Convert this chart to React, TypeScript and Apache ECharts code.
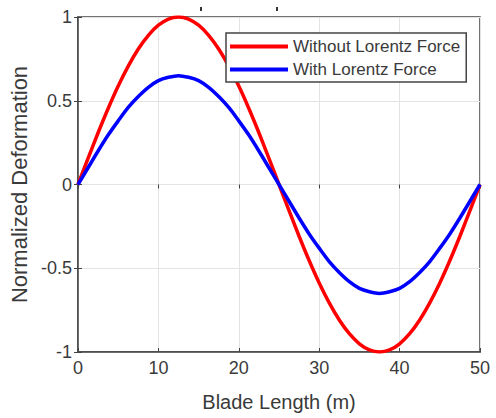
import React, { useEffect, useRef } from "react";
import * as echarts from "echarts";

const xValues = [0, 1.25, 2.5, 3.75, 5, 6.25, 7.5, 8.75, 10, 11.25, 12.5, 13.75, 15, 16.25, 17.5, 18.75, 20, 21.25, 22.5, 23.75, 25, 26.25, 27.5, 28.75, 30, 31.25, 32.5, 33.75, 35, 36.25, 37.5, 38.75, 40, 41.25, 42.5, 43.75, 45, 46.25, 47.5, 48.75, 50];
const withoutLorentz = [0, 0.156, 0.309, 0.454, 0.588, 0.707, 0.809, 0.891, 0.951, 0.988, 1.0, 0.988, 0.951, 0.891, 0.809, 0.707, 0.588, 0.454, 0.309, 0.156, 0, -0.156, -0.309, -0.454, -0.588, -0.707, -0.809, -0.891, -0.951, -0.988, -1.0, -0.988, -0.951, -0.891, -0.809, -0.707, -0.588, -0.454, -0.309, -0.156, 0];
const withLorentz = [0, 0.1, 0.2, 0.295, 0.38, 0.46, 0.525, 0.58, 0.62, 0.64, 0.65, 0.64, 0.62, 0.58, 0.525, 0.46, 0.38, 0.295, 0.2, 0.1, 0, -0.1, -0.2, -0.295, -0.38, -0.46, -0.525, -0.58, -0.62, -0.64, -0.65, -0.64, -0.62, -0.58, -0.525, -0.46, -0.38, -0.295, -0.2, -0.1, 0];
const seriesNames = ["Without Lorentz Force", "With Lorentz Force"];

export default function App() {
  const ref = useRef<HTMLDivElement>(null);
  useEffect(() => {
    if (!ref.current) return;
    const chart = echarts.init(ref.current, null, { renderer: "svg" });
    const font = "'Liberation Sans', Arial, sans-serif";
    const textColor = "#3a3a3a";
    chart.setOption({
      animation: false,
      backgroundColor: "#ffffff",
      grid: {
        left: 78,
        right: 16,
        top: 17,
        bottom: 66,
        show: true,
        borderColor: "#444444",
        borderWidth: 1.5,
        backgroundColor: "transparent",
      },
      legend: {
        orient: "vertical",
        left: 226,
        top: 33,
        data: seriesNames,
        icon: "rect",
        itemWidth: 58,
        itemHeight: 4,
        itemGap: 6,
        padding: [5, 6, 4, 4],
        backgroundColor: "#ffffff",
        borderColor: "#444444",
        borderWidth: 1.5,
        textStyle: { fontFamily: font, fontSize: 17, lineHeight: 17, color: textColor },
      },
      xAxis: [
        {
          type: "value",
          min: 0,
          max: 50,
          interval: 10,
          name: "Blade Length (m)",
          nameLocation: "middle",
          nameGap: 40,
          nameTextStyle: { fontFamily: font, fontSize: 20, color: textColor },
          axisLine: { show: true, onZero: false, lineStyle: { color: "#444444", width: 1.5 } },
          axisTick: { show: true, inside: true, length: 4, lineStyle: { color: "#444444" } },
          axisLabel: { fontFamily: font, fontSize: 18, color: textColor, margin: 7 },
          splitLine: { show: true, lineStyle: { color: "#e3e3e3", width: 1 } },
        },
        {
          type: "value",
          position: "top",
          min: 0,
          max: 50,
          interval: 10,
          axisLine: { show: false },
          axisTick: { show: true, inside: true, length: 4, lineStyle: { color: "#444444" } },
          axisLabel: { show: false },
          splitLine: { show: false },
        },
      ],
      yAxis: [
        {
          type: "value",
          min: -1,
          max: 1,
          interval: 0.5,
          name: "Normalized Deformation",
          nameLocation: "middle",
          nameGap: 40,
          nameTextStyle: { fontFamily: font, fontSize: 22, color: textColor },
          axisLine: { show: true, onZero: false, lineStyle: { color: "#444444", width: 1.5 } },
          axisTick: { show: true, inside: true, length: 4, lineStyle: { color: "#444444" } },
          axisLabel: { fontFamily: font, fontSize: 18, color: textColor, margin: 6 },
          splitLine: { show: true, lineStyle: { color: "#e3e3e3", width: 1 } },
        },
        {
          type: "value",
          position: "right",
          min: -1,
          max: 1,
          interval: 0.5,
          axisLine: { show: false },
          axisTick: { show: true, inside: true, length: 4, lineStyle: { color: "#444444" } },
          axisLabel: { show: false },
          splitLine: { show: false },
        },
      ],
      series: [
        {
          name: seriesNames[0],
          type: "line",
          data: xValues.map((x, i) => [x, withoutLorentz[i]]),
          smooth: 0.3,
          symbol: "none",
          lineStyle: { color: "#ff0000", width: 3.5 },
          itemStyle: { color: "#ff0000" },
          z: 3,
        },
        {
          name: seriesNames[1],
          type: "line",
          data: xValues.map((x, i) => [x, withLorentz[i]]),
          smooth: 0.3,
          symbol: "none",
          lineStyle: { color: "#0000ff", width: 3.5 },
          itemStyle: { color: "#0000ff" },
          z: 4,
        },
      ],
      graphic: [
        { type: "rect", left: 200, top: 7, shape: { width: 2, height: 4 }, style: { fill: "#333333" } },
        { type: "rect", left: 276, top: 7, shape: { width: 2, height: 4 }, style: { fill: "#333333" } },
      ],
    });
    return () => chart.dispose();
  }, []);
  return <div ref={ref} style={{ width: 496, height: 418, position: "absolute", left: 0, top: 0 }} />;
}
